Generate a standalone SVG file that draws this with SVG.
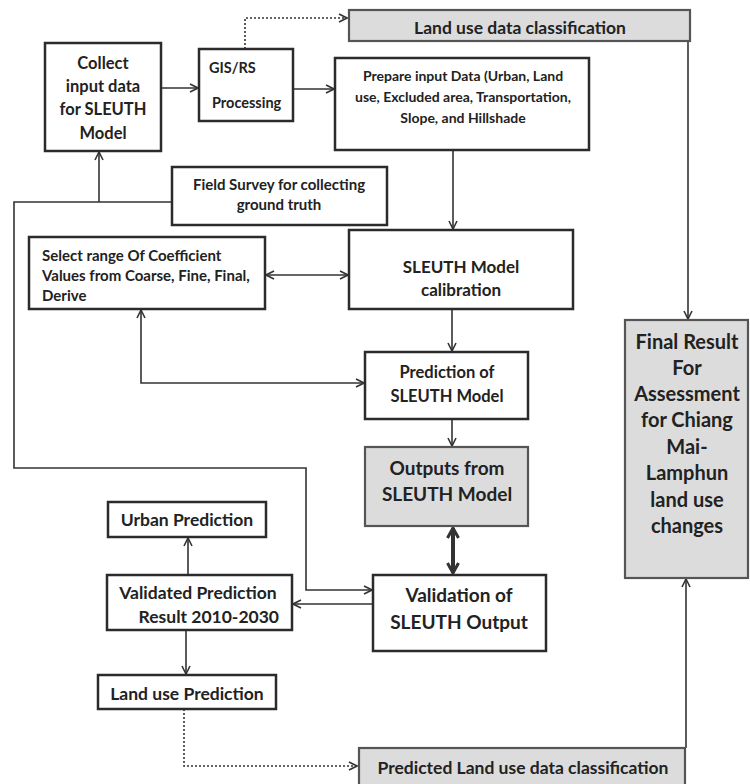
<svg xmlns="http://www.w3.org/2000/svg" width="750" height="784" viewBox="0 0 750 784">
<defs>
<marker id="arr" viewBox="0 0 10 10" refX="9" refY="5" markerWidth="10" markerHeight="10" markerUnits="userSpaceOnUse" orient="auto-start-reverse"><path d="M1,1 L9,5 L1,9" fill="none" stroke="#333" stroke-width="1.6"/></marker>
<marker id="arrB" viewBox="0 0 14 14" refX="12" refY="7" markerWidth="14" markerHeight="14" markerUnits="userSpaceOnUse" orient="auto-start-reverse"><path d="M2,1.5 L12,7 L2,12.5" fill="none" stroke="#333" stroke-width="3"/></marker>
</defs>
<style>
.box{fill:#fff;stroke:#2b2b2b;stroke-width:2.5}
.gray{fill:#dcdcdc;stroke:#555;stroke-width:2.2}
text{font-family:Lato,"Open Sans","Liberation Sans",sans-serif;font-weight:bold;fill:#222}
.c{text-anchor:middle}
.ln{fill:none;stroke:#333;stroke-width:1.6}
.dot{fill:none;stroke:#333;stroke-width:1.6;stroke-dasharray:2 2}
.thick{fill:none;stroke:#333;stroke-width:4}
</style>
<rect width="750" height="784" fill="#fff"/>
<g id="connectors">
<path class="ln" d="M161,88 H198" marker-end="url(#arr)"/>
<path class="ln" d="M293,89 H334" marker-end="url(#arr)"/>
<path class="dot" d="M245,49 V18 H347" marker-end="url(#arr)"/>
<path class="ln" d="M688,41 V319" marker-end="url(#arr)"/>
<path class="ln" d="M453,150 V229" marker-end="url(#arr)"/>
<path class="ln" d="M266,275 H348" marker-start="url(#arr)" marker-end="url(#arr)"/>
<path class="ln" d="M452,309 V351" marker-end="url(#arr)"/>
<path class="ln" d="M141,310 V383 H364" marker-start="url(#arr)" marker-end="url(#arr)"/>
<path class="ln" d="M452,419 V446" marker-end="url(#arr)"/>
<path class="thick" d="M453,528 V573" marker-start="url(#arrB)" marker-end="url(#arrB)"/>
<path class="ln" d="M172,202 H14 V468 H306 V590 H372" marker-end="url(#arr)"/>
<path class="ln" d="M99,202 V152" marker-end="url(#arr)"/>
<path class="ln" d="M373,604 H293" marker-end="url(#arr)"/>
<path class="ln" d="M188,575 V538" marker-end="url(#arr)"/>
<path class="ln" d="M186,630 V674" marker-end="url(#arr)"/>
<path class="dot" d="M184,709 V766 H357" marker-end="url(#arr)"/>
<path class="ln" d="M686,748 V579" marker-end="url(#arr)"/>
</g>
<g id="collect">
<rect class="box" x="45" y="43" width="116" height="108"/>
<text class="c" x="103" y="69" font-size="16.5">Collect</text>
<text class="c" x="103" y="92" font-size="16.5">input data</text>
<text class="c" x="103" y="115" font-size="16.5">for SLEUTH</text>
<text class="c" x="103" y="139" font-size="16.5">Model</text>
</g>
<g id="gis">
<rect class="box" x="199" y="49" width="94" height="72"/>
<text x="209" y="73" font-size="14.5">GIS/RS</text>
<text x="212" y="108" font-size="14.5">Processing</text>
</g>
<g id="ludc">
<rect class="gray" x="349" y="10" width="341" height="31"/>
<text class="c" x="520" y="34" font-size="17.5">Land use data classification</text>
</g>
<g id="prepare">
<rect class="box" x="335" y="58" width="254" height="92"/>
<text class="c" x="463" y="81" font-size="14">Prepare input Data (Urban, Land</text>
<text class="c" x="463" y="102" font-size="14">use, Excluded area, Transportation,</text>
<text class="c" x="463" y="123" font-size="14">Slope, and Hillshade</text>
</g>
<g id="field">
<rect class="box" x="172" y="167" width="215" height="58"/>
<text class="c" x="279" y="190" font-size="15">Field Survey for collecting</text>
<text class="c" x="279" y="210" font-size="15">ground truth</text>
</g>
<g id="select">
<rect class="box" x="29" y="237" width="236" height="72"/>
<text x="42" y="261" font-size="15">Select range Of Coefficient</text>
<text x="42" y="281" font-size="15">Values from Coarse, Fine, Final,</text>
<text x="42" y="301" font-size="15">Derive</text>
</g>
<g id="calibration">
<rect class="box" x="349" y="230" width="224" height="79"/>
<text class="c" x="461" y="273" font-size="17">SLEUTH Model</text>
<text class="c" x="461" y="296" font-size="17">calibration</text>
</g>
<g id="prediction">
<rect class="box" x="365" y="352" width="163" height="67"/>
<text class="c" x="447" y="378" font-size="16.5">Prediction of</text>
<text class="c" x="447" y="402" font-size="16.5">SLEUTH Model</text>
</g>
<g id="outputs">
<rect class="gray" x="365" y="447" width="163" height="79"/>
<text class="c" x="447" y="475" font-size="19">Outputs from</text>
<text class="c" x="447" y="501" font-size="19">SLEUTH Model</text>
</g>
<g id="validation">
<rect class="box" x="373" y="575" width="173" height="76"/>
<text class="c" x="459" y="602" font-size="19">Validation of</text>
<text class="c" x="459" y="629" font-size="19">SLEUTH Output</text>
</g>
<g id="final">
<rect class="gray" x="625" y="320" width="123" height="258"/>
<text class="c" x="687" y="349" font-size="20">Final Result</text>
<text class="c" x="687" y="375" font-size="20">For</text>
<text class="c" x="687" y="401" font-size="20">Assessment</text>
<text class="c" x="687" y="427" font-size="20">for Chiang</text>
<text class="c" x="687" y="454" font-size="20">Mai-</text>
<text class="c" x="687" y="480" font-size="20">Lamphun</text>
<text class="c" x="687" y="507" font-size="20">land use</text>
<text class="c" x="687" y="533" font-size="20">changes</text>
</g>
<g id="urban">
<rect class="box" x="108" y="502" width="158" height="35"/>
<text class="c" x="187" y="526" font-size="17.5">Urban Prediction</text>
</g>
<g id="validated">
<rect class="box" x="107" y="575" width="185" height="55"/>
<text class="c" x="198" y="599" font-size="17.5">Validated Prediction</text>
<text x="279" y="623" font-size="17.5" text-anchor="end">Result 2010-2030</text>
</g>
<g id="landuse">
<rect class="box" x="98" y="675" width="178" height="34"/>
<text class="c" x="187" y="700" font-size="17.5">Land use Prediction</text>
</g>
<g id="predicted">
<rect class="gray" x="359" y="748" width="326" height="42"/>
<text class="c" x="523" y="774" font-size="17.5">Predicted Land use data classification</text>
</g>
</svg>
